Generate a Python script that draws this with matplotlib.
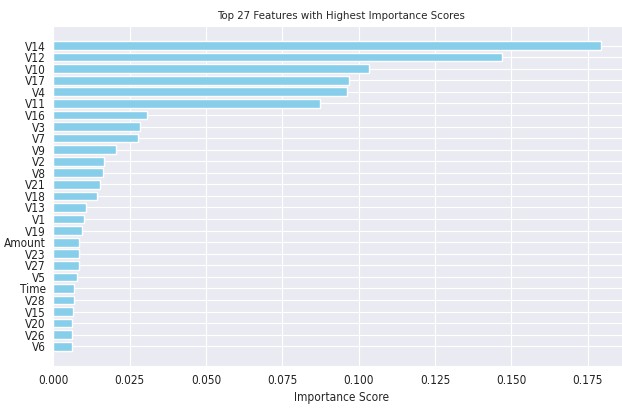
import matplotlib
matplotlib.use('Agg')
import matplotlib.pyplot as plt
import seaborn as sns

# feature names and importance scores (top first)
features = ['V14', 'V12', 'V10', 'V17', 'V4', 'V11', 'V16', 'V3', 'V7', 'V9',
            'V2', 'V8', 'V21', 'V18', 'V13', 'V1', 'V19', 'Amount', 'V23', 'V27',
            'V5', 'Time', 'V28', 'V15', 'V20', 'V26', 'V6']
scores = [0.1795, 0.1470, 0.1035, 0.0968, 0.0960, 0.0872, 0.0305, 0.0282, 0.0278, 0.0205,
          0.0167, 0.0162, 0.0152, 0.0141, 0.0105, 0.0101, 0.0093, 0.0085, 0.0084, 0.0083,
          0.0078, 0.0068, 0.0066, 0.0064, 0.0062, 0.0061, 0.0059]

sns.set_style('darkgrid')
plt.rcParams['font.family'] = ['DejaVu Sans']
plt.rcParams['font.stretch'] = 'condensed'

fig = plt.figure(figsize=(6.22, 4.09), dpi=100)
ax = fig.add_axes([0.086, 0.105, 0.925, 0.832])

# 画水平条形图，最重要的在最上面
ax.barh(features[::-1], scores[::-1], color='skyblue', height=0.75)
ax.set_title('Top 27 Features with Highest Importance Scores', fontsize=8.2, pad=5)
ax.set_xlabel('Importance Score', fontsize=8.6, labelpad=3)
ax.tick_params(axis='both', labelsize=8.5, pad=2, labelcolor='#222222')
ax.set_xticks([0, 0.025, 0.05, 0.075, 0.1, 0.125, 0.15, 0.175])

fig.savefig('out.png', dpi=100)
